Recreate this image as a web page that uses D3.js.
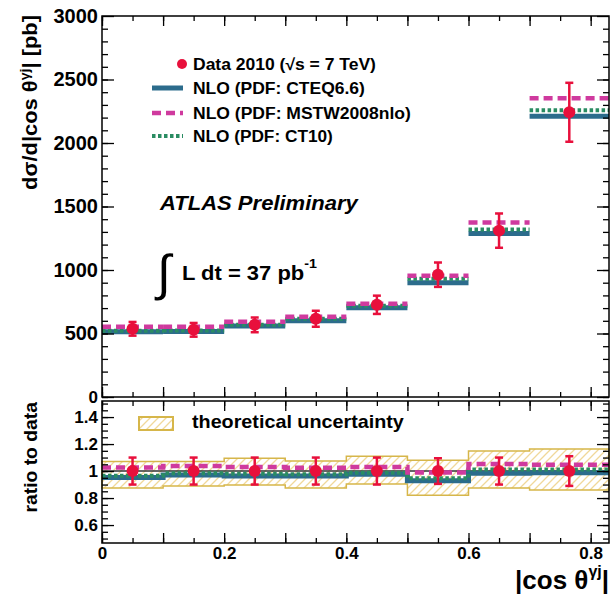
<!DOCTYPE html>
<html>
<head>
<meta charset="utf-8">
<script src="https://cdn.jsdelivr.net/npm/d3@7"></script>
<style>
  body { margin: 0; background: #fff; }
  svg { display: block; }
  text { font-family: "Liberation Sans", Arial, sans-serif; font-weight: bold; fill: #000; }
</style>
</head>
<body>
<svg width="616" height="606"></svg>
<script>
// bins in |cos theta^gamma j|
var binEdges = [0, 0.1, 0.2, 0.3, 0.4, 0.5, 0.6, 0.7, 0.83];
var dataX = [0.05, 0.15, 0.25, 0.35, 0.45, 0.55, 0.65, 0.765];
// cross section [pb]
var dataY = [537, 529, 568, 616, 726, 963, 1310, 2242];
var dataErr = [54, 54, 58, 63, 72, 96, 135, 232];
var cteq = [513, 516, 560, 600, 703, 900, 1287, 2211];
var mstw = [553, 553, 592, 632, 734, 955, 1374, 2353];
var ct10 = [521, 524, 568, 616, 718, 932, 1318, 2258];
// ratio to data
var cteqRatio = [0.953, 0.970, 0.963, 0.963, 0.976, 0.928, 0.983, 0.988];
var mstwRatio = [1.027, 1.037, 1.030, 1.025, 1.030, 0.990, 1.052, 1.047];
var ct10Ratio = [0.965, 0.983, 0.980, 0.976, 0.988, 0.946, 1.012, 1.012];
var bandHi = [1.070, 1.070, 1.095, 1.074, 1.110, 1.080, 1.148, 1.163];
var bandLo = [0.875, 0.890, 0.897, 0.874, 0.905, 0.820, 0.874, 0.860];
var ratioErr = [0.10, 0.10, 0.10, 0.10, 0.10, 0.095, 0.10, 0.11];

var yTicksTop = [0, 500, 1000, 1500, 2000, 2500, 3000];
var yTicksRatio = [0.6, 0.8, 1, 1.2, 1.4];
var xLabelTicks = [0, 0.2, 0.4, 0.6, 0.8];

var colors = { data: "#e8103c", cteq: "#2c6c8c", mstw: "#cf3a9e", ct10: "#2a8c62", band: "#d6b64a", hatch: "#f0d89a" };

var svg = d3.select("svg");
var left = 102, right = 609;
var topY0 = 16, topY1 = 397;
var lowY0 = 401, lowY1 = 543;

var x = d3.scaleLinear().domain([0, 0.83]).range([left, right]);
var y = d3.scaleLinear().domain([0, 3000]).range([topY1, topY0]);
var yr = d3.scaleLinear().domain([0.467, 1.519]).range([lowY1, lowY0]);

// hatch pattern for the theory band
var defs = svg.append("defs");
defs.append("pattern").attr("id", "hatch").attr("patternUnits", "userSpaceOnUse")
    .attr("width", 8).attr("height", 8)
    .append("path").attr("d", "M0,8L8,0M-2,2L2,-2M6,10L10,6")
    .attr("stroke", colors.hatch).attr("stroke-width", 1.3);

function binIdx() { return d3.range(dataX.length); }

// stretch a text horizontally (the original fonts are wider than ours)
function fitWidth(sel, w) {
    var node = sel.node();
    var s = w / node.getBBox().width;
    var ax = +sel.attr("x") || 0;
    var t = sel.attr("transform") || "";
    if (t) sel.attr("transform", t + " scale(" + s + ",1)");
    else sel.attr("transform", "translate(" + ax + ",0) scale(" + s + ",1) translate(" + (-ax) + ",0)");
}

// ---------- axes helper ----------
function drawAxes(yScale, yMajor, yMinorStep, y0, y1, withXLabels, yFormat) {
    var xMinor = d3.range(0, 0.831, 0.05);
    var xMid = d3.range(0, 0.831, 0.1);
    // bottom
    svg.append("g").attr("transform", "translate(0," + y1 + ")")
        .call(d3.axisBottom(x).tickValues(xMinor).tickSize(-5).tickFormat(""));
    svg.append("g").attr("transform", "translate(0," + y1 + ")")
        .call(d3.axisBottom(x).tickValues(xMid).tickSize(-10).tickFormat(""));
    if (withXLabels) {
        svg.append("g").attr("class", "xlab").attr("transform", "translate(0," + y1 + ")")
            .call(d3.axisBottom(x).tickValues(xLabelTicks).tickSize(0).tickPadding(4)
                .tickFormat(function (d) { return d === 0 ? "0" : d3.format(".1f")(d); }));
    }
    // top
    svg.append("g").attr("transform", "translate(0," + y0 + ")")
        .call(d3.axisTop(x).tickValues(xMinor).tickSize(-5).tickFormat(""));
    svg.append("g").attr("transform", "translate(0," + y0 + ")")
        .call(d3.axisTop(x).tickValues(xMid).tickSize(-10).tickFormat(""));
    // left / right
    var d = yScale.domain();
    var yMinor = d3.range(Math.ceil(d[0] / yMinorStep) * yMinorStep, d[1], yMinorStep);
    svg.append("g").attr("transform", "translate(" + left + ",0)")
        .call(d3.axisLeft(yScale).tickValues(yMinor).tickSize(-6).tickFormat(""));
    svg.append("g").attr("class", "ylab").attr("transform", "translate(" + left + ",0)")
        .call(d3.axisLeft(yScale).tickValues(yMajor).tickSize(-12).tickPadding(4).tickFormat(yFormat));
    svg.append("g").attr("transform", "translate(" + right + ",0)")
        .call(d3.axisRight(yScale).tickValues(yMinor).tickSize(-6).tickFormat(""));
    svg.append("g").attr("transform", "translate(" + right + ",0)")
        .call(d3.axisRight(yScale).tickValues(yMajor).tickSize(-12).tickFormat(""));
    // frame
    svg.append("rect").attr("x", left).attr("y", y0).attr("width", right - left).attr("height", y1 - y0)
        .attr("fill", "none").attr("stroke", "#000").attr("stroke-width", 1.5);
}

// ---------- upper panel ----------
function drawSegments(vals, color, width, dash) {
    svg.append("g").selectAll("line").data(binIdx()).enter().append("line")
        .attr("x1", function (i) { return x(binEdges[i]); })
        .attr("x2", function (i) { return x(binEdges[i + 1]); })
        .attr("y1", function (i) { return y(vals[i]); })
        .attr("y2", function (i) { return y(vals[i]); })
        .attr("stroke", color).attr("stroke-width", width)
        .attr("stroke-dasharray", dash || null);
}
drawSegments(cteq, colors.cteq, 5);
drawSegments(ct10, colors.ct10, 4, "3.5,2.5");
drawSegments(mstw, colors.mstw, 4.5, "9,5");

function drawPoints(yScale, vals, errs) {
    var g = svg.append("g");
    var pts = binIdx();
    g.selectAll(".err").data(pts).enter().append("line")
        .attr("x1", function (i) { return x(dataX[i]); })
        .attr("x2", function (i) { return x(dataX[i]); })
        .attr("y1", function (i) { return yScale(vals[i] - errs[i]); })
        .attr("y2", function (i) { return yScale(vals[i] + errs[i]); })
        .attr("stroke", colors.data).attr("stroke-width", 2.5);
    [-1, 1].forEach(function (s) {
        g.selectAll(".cap" + s).data(pts).enter().append("line")
            .attr("x1", function (i) { return x(dataX[i]) - 4; })
            .attr("x2", function (i) { return x(dataX[i]) + 4; })
            .attr("y1", function (i) { return yScale(vals[i] + s * errs[i]); })
            .attr("y2", function (i) { return yScale(vals[i] + s * errs[i]); })
            .attr("stroke", colors.data).attr("stroke-width", 2.5);
    });
    g.selectAll("circle").data(pts).enter().append("circle")
        .attr("cx", function (i) { return x(dataX[i]); })
        .attr("cy", function (i) { return yScale(vals[i]); })
        .attr("r", 6).attr("fill", colors.data);
}
drawPoints(y, dataY, dataErr);

drawAxes(y, yTicksTop, 100, topY0, topY1, false, d3.format("d"));

// ---------- lower panel ----------
function stepPoints(vals) {
    var pts = [];
    vals.forEach(function (v, i) { pts.push([binEdges[i], v]); pts.push([binEdges[i + 1], v]); });
    return pts;
}
var bandPts = [];
bandHi.forEach(function (v, i) {
    bandPts.push([binEdges[i], bandLo[i], v]);
    bandPts.push([binEdges[i + 1], bandLo[i], v]);
});
var area = d3.area().x(function (d) { return x(d[0]); })
    .y0(function (d) { return yr(d[1]); }).y1(function (d) { return yr(d[2]); });
svg.append("path").attr("d", area(bandPts)).attr("fill", "url(#hatch)")
    .attr("stroke", colors.band).attr("stroke-width", 1.5);

svg.append("line").attr("x1", left).attr("x2", right).attr("y1", yr(1)).attr("y2", yr(1))
    .attr("stroke", "#333").attr("stroke-width", 1.5);

var stepLine = d3.line().x(function (d) { return x(d[0]); }).y(function (d) { return yr(d[1]); });
svg.append("path").attr("d", stepLine(stepPoints(cteqRatio))).attr("fill", "none")
    .attr("stroke", colors.cteq).attr("stroke-width", 5);
svg.append("path").attr("d", stepLine(stepPoints(ct10Ratio))).attr("fill", "none")
    .attr("stroke", colors.ct10).attr("stroke-width", 4).attr("stroke-dasharray", "3.5,2.5");
svg.append("path").attr("d", stepLine(stepPoints(mstwRatio))).attr("fill", "none")
    .attr("stroke", colors.mstw).attr("stroke-width", 4.5).attr("stroke-dasharray", "9,5");

drawPoints(yr, dataX.map(function () { return 1; }), ratioErr);

drawAxes(yr, yTicksRatio, 0.05, lowY0, lowY1, true,
    function (d) { return d === 1 ? "1" : d3.format(".1f")(d); });

svg.selectAll(".domain").remove();
svg.selectAll(".tick line").attr("stroke", "#000").attr("stroke-width", 1.3);
svg.selectAll(".ylab text").style("font-size", "20px").style("font-family", "Liberation Sans, Arial, sans-serif").style("font-weight", "bold");
svg.selectAll(".xlab text").style("font-size", "17px").style("font-family", "Liberation Sans, Arial, sans-serif").style("font-weight", "bold");
svg.selectAll(".ylab text").filter(function (d) { return d < 2; }).style("font-size", "17px");

// ---------- legend ----------
var leg = svg.append("g");
leg.append("circle").attr("cx", 182).attr("cy", 64).attr("r", 5).attr("fill", colors.data);
fitWidth(leg.append("text").attr("x", 193).attr("y", 70).style("font-size", "16px")
    .text("Data 2010 (√s = 7 TeV)"), 183);
var legItems = [
    { label: "NLO (PDF: CTEQ6.6)", color: colors.cteq, w: 5, dash: null, yy: 88, len: 172 },
    { label: "NLO (PDF: MSTW2008nlo)", color: colors.mstw, w: 4.5, dash: "9,5", yy: 113, len: 218 },
    { label: "NLO (PDF: CT10)", color: colors.ct10, w: 4, dash: "3.5,2.5", yy: 136, len: 140 }
];
legItems.forEach(function (d) {
    leg.append("line").attr("x1", 152).attr("x2", 183).attr("y1", d.yy).attr("y2", d.yy)
        .attr("stroke", d.color).attr("stroke-width", d.w).attr("stroke-dasharray", d.dash);
    fitWidth(leg.append("text").attr("x", 193).attr("y", d.yy + 6).style("font-size", "16px").text(d.label), d.len);
});

fitWidth(svg.append("text").attr("x", 160).attr("y", 210).style("font-size", "20px").style("font-style", "italic")
    .text("ATLAS Preliminary"), 200);

var lumi = svg.append("text").attr("x", 182).attr("y", 280).style("font-size", "20px");
lumi.append("tspan").text("L dt = 37 pb");
lumi.append("tspan").attr("dy", -12).style("font-size", "13px").text("-1");
fitWidth(lumi, 135);
svg.append("text").attr("x", 157).attr("y", 290).style("font-size", "50px").style("font-weight", "normal")
    .text("∫");

// lower legend
svg.append("rect").attr("x", 139).attr("y", 417).attr("width", 34).attr("height", 13)
    .attr("fill", "url(#hatch)").attr("stroke", colors.band).attr("stroke-width", 2);
fitWidth(svg.append("text").attr("x", 192).attr("y", 428).style("font-size", "18px")
    .text("theoretical uncertainty"), 212);

// ---------- axis titles ----------
var yt = svg.append("text").attr("transform", "translate(37,15) rotate(-90)")
    .attr("text-anchor", "end").style("font-size", "20px");
yt.append("tspan").text("dσ/d|cos θ");
yt.append("tspan").attr("dy", -8).style("font-size", "13px").text("γj");
yt.append("tspan").attr("dy", 8).text("| [pb]");
fitWidth(yt, 175);

fitWidth(svg.append("text").attr("transform", "translate(37,402) rotate(-90)")
    .attr("text-anchor", "end").style("font-size", "19px").text("ratio to data"), 111);

var xt = svg.append("text").attr("x", 609).attr("y", 589).attr("text-anchor", "end").style("font-size", "26px");
xt.append("tspan").text("|cos θ");
xt.append("tspan").attr("dy", -12).style("font-size", "16px").text("γj");
xt.append("tspan").attr("dy", 12).text("|");
</script>
</body>
</html>
